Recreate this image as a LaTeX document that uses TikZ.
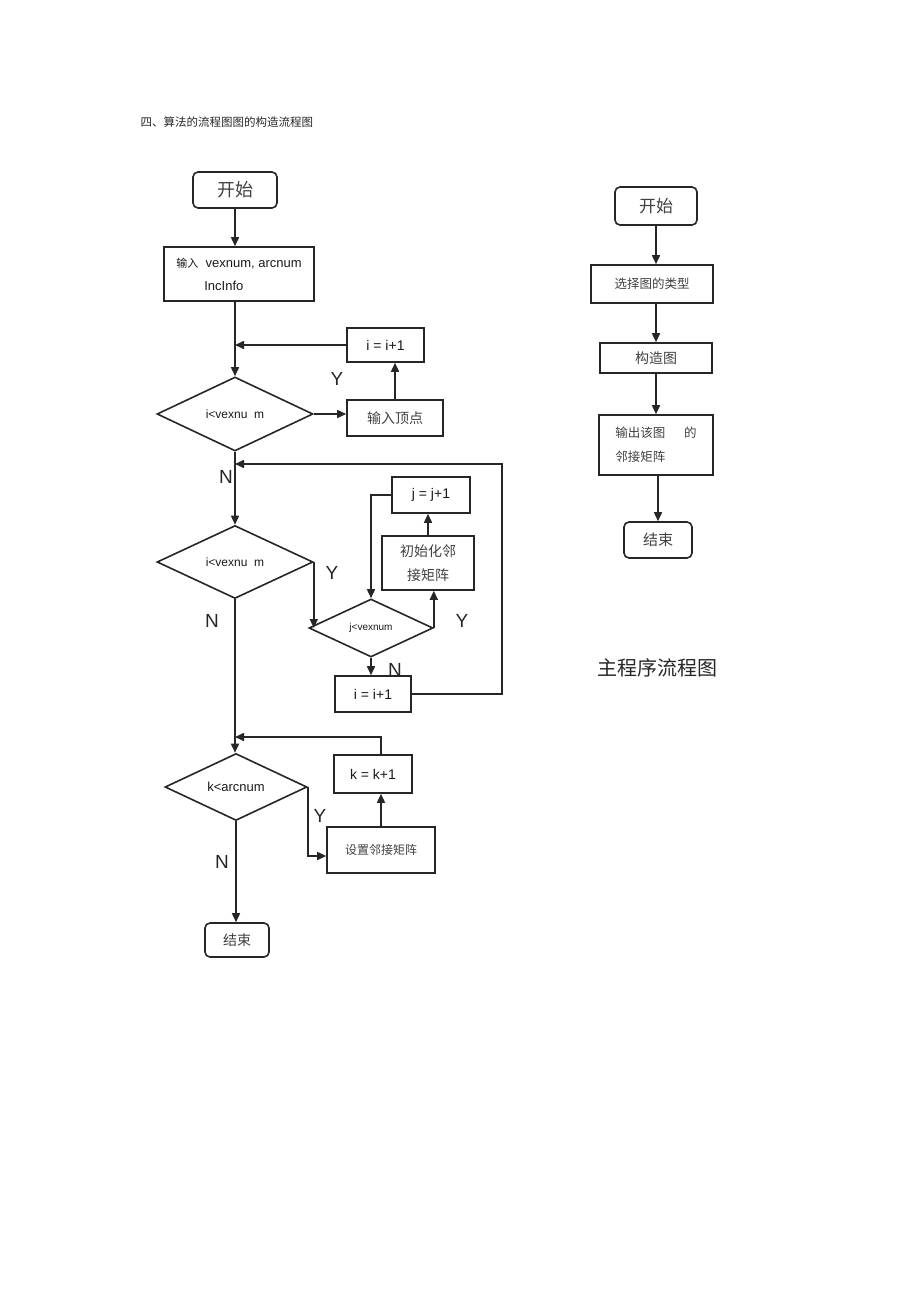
\documentclass[tikz,border=0pt]{standalone}
\usepackage{fontspec}
\setmainfont{Liberation Sans}
\newfontfamily\cjk{Noto Sans CJK SC}
\usetikzlibrary{shapes.geometric,arrows.meta,positioning}

\tikzset{
  box/.style={draw=black!85,line width=1.6pt,rectangle,inner sep=1pt},
  term/.style={box,rounded corners=5pt},
  dec/.style={draw=black!85,line width=1.6pt,diamond,inner sep=0pt},
  flow/.style={draw=black!85,line width=1.6pt,-{Triangle[length=9pt,width=8pt]}},
  lbl/.style={font=\fontsize{19}{21}\selectfont,text=black!85},
  zh/.style={font=\cjk\fontsize{#1}{24}\selectfont,text=black!75},
  en/.style={font=\fontsize{#1}{23}\selectfont,text=black!90}
}

\begin{document}
\begin{tikzpicture}[x=1pt,y=-1pt]
   \useasboundingbox (0,0) rectangle (920,1303);
   \node[zh=11.5,anchor=west,text=black!85] (title) at (137,122) {四、算法的流程图图的构造流程图};

   % construction flow chart
   \node[term,minimum width=84,minimum height=36,zh=18] (start) at (235,190) {开始};
   \node[box,minimum width=150,minimum height=54,en=13,align=left] (input) at (239,274)
      {{\cjk\fontsize{11}{13}\selectfont 输入}\ \ vexnum, arcnum\\\hspace{28pt}IncInfo};
   \node[dec,minimum width=156,minimum height=74,en=12] (dia1) at (235,414) {i<vexnu\ \ m};
   \node[box,minimum width=77,minimum height=34,en=14] (inc1) at (385.5,345) {i = i+1};
   \node[box,minimum width=96,minimum height=36,zh=14] (vin) at (395,418) {输入顶点};
   \node[dec,minimum width=156,minimum height=73,en=12] (dia2) at (235,562) {i<vexnu\ \ m};
   \node[dec,minimum width=124,minimum height=58,en=10] (dia3) at (371,628) {j<vexnum};
   \node[box,minimum width=92,minimum height=54,zh=14,align=center] (init) at (428,563) {初始化邻\\接矩阵};
   \node[box,minimum width=78,minimum height=36,en=14] (jinc) at (431,495) {j = j+1};
   \node[box,minimum width=76,minimum height=36,en=14] (inc2) at (373,694) {i = i+1};
   \node[dec,minimum width=142,minimum height=60,en=13] (dia4) at (236,787) {k<arcnum};
   \node[box,minimum width=78,minimum height=38,en=14] (kinc) at (373,774) {k = k+1};
   \node[box,minimum width=108,minimum height=46,zh=12] (setm) at (381,850) {设置邻接矩阵};
   \node[term,minimum width=64,minimum height=34,zh=14] (stop) at (237,940) {结束};

   \coordinate (m1) at (235,464);
   \coordinate (rt) at (502,464);
   \coordinate (m3) at (235,737);

   \draw[flow] (start) -- (start |- input.north);
   \draw[flow] (dia1.north |- input.south) -- (dia1.north);
   \draw[flow] (inc1.west) -- (inc1.west -| dia1.north);
   \draw[flow] (dia1.east) -- (dia1.east -| vin.west);
   \draw[flow] (vin.north) -- (vin.north |- inc1.south);
   \draw[flow] (dia1.south) -- (dia2.north);
   \draw[flow] (inc2.east) -| (rt) -- (m1);
   \draw[flow] (dia2.east) -- (dia2.east |- dia3.west);
   \draw[flow] (dia3.east) -- (dia3.east |- init.south);
   \draw[flow] (init.north) -- (init.north |- jinc.south);
   \draw[flow] (jinc.west) -| (dia3.north);
   \draw[flow] (dia3.south) -- (dia3.south |- inc2.north);
   \draw[flow] (dia2.south) -- (dia2.south |- dia4.north);
   \draw[flow] (setm.north |- kinc.north) |- (m3);
   \draw[flow] (dia4.east) |- ([yshift=-6pt]setm.west);
   \draw[flow] (setm.north) -- (setm.north |- kinc.south);
   \draw[flow] (dia4.south) -- (dia4.south |- stop.north);

   \node[lbl] (y1) at (337,379) {Y};
   \node[lbl] (n1) at (226,477) {N};
   \node[lbl] (y2) at (332,573) {Y};
   \node[lbl] (n2) at (212,621) {N};
   \node[lbl] (y3) at (462,621) {Y};
   \node[lbl] (n3) at (395,670) {N};
   \node[lbl] (y4) at (320,816) {Y};
   \node[lbl] (n4) at (222,862) {N};

   % main program
   \node[term,minimum width=82,minimum height=38,zh=17] (rstart) at (656,206) {开始};
   \node[box,minimum width=122,minimum height=38,zh=12.5] (rsel) at (652,284) {选择图的类型};
   \node[box,minimum width=112,minimum height=30,zh=14] (rcons) at (656,358) {构造图};
   \node[box,minimum width=114,minimum height=60,zh=12.5,align=left] (rout) at (656,445)
      {输出该图\hspace{1.5em}的\\邻接矩阵\hspace{2.5em}\mbox{}};
   \node[term,minimum width=68,minimum height=36,zh=15] (rend) at (658,540) {结束};
   \node[zh=20,text=black!85] (cap) at (657,668) {主程序流程图};

   \draw[flow] (rstart) -- (rstart |- rsel.north);
   \draw[flow] (rsel.south -| rstart) -- (rstart |- rcons.north);
   \draw[flow] (rcons) -- (rcons |- rout.north);
   \draw[flow] (rout.south -| rend) -- (rend.north);
\end{tikzpicture}
\end{document}
